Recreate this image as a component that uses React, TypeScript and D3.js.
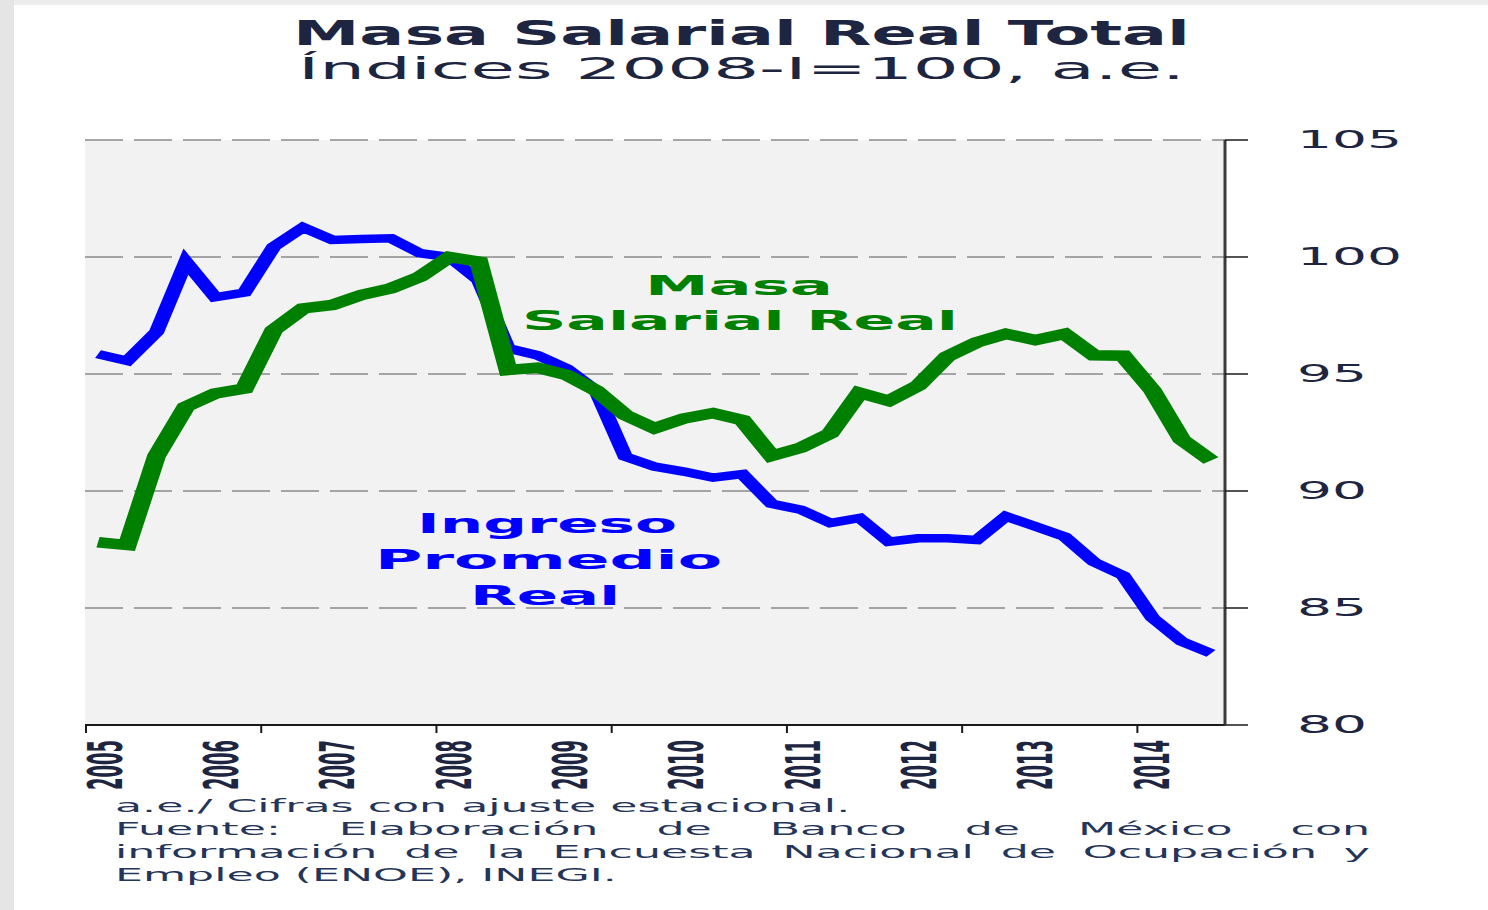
import React, { useLayoutEffect, useRef } from "react";
import * as d3 from "d3";

// ---------------- data ----------------
const years = ["2005", "2006", "2007", "2008", "2009", "2010", "2011", "2012", "2013", "2014"];
const quarterNames = ["I", "II", "III", "IV"];
// quarterly periods 2005-I .. 2014-III
const periods = years.flatMap((y) => quarterNames.map((q) => `${y}-${q}`)).slice(0, 39);

// Ingreso Promedio Real (index 2008-I = 100)
const ingresoPromedio = [
  95.85, 95.56, 96.8, 99.8, 98.28, 98.48, 100.44, 101.27, 100.73, 100.77,
  100.8, 100.16, 100.0, 99.0, 96.1, 95.8, 95.24, 94.3, 91.47, 91.04,
  90.83, 90.57, 90.72, 89.45, 89.2, 88.63, 88.85, 87.83, 87.98, 87.98,
  87.91, 88.92, 88.49, 88.05, 86.97, 86.39, 84.58, 83.57, 83.06,
];

// Masa Salarial Real (index 2008-I = 100)
const masaSalarial = [
  87.81, 87.69, 91.5, 93.6, 94.17, 94.38, 96.88, 97.8, 97.95, 98.38,
  98.66, 99.16, 100.0, 99.8, 95.17, 95.27, 94.96, 94.3, 93.25, 92.68,
  93.1, 93.33, 93.03, 91.5, 91.85, 92.46, 94.2, 93.85, 94.5, 95.75,
  96.35, 96.72, 96.45, 96.72, 95.8, 95.78, 94.3, 92.2, 91.3,
];

const yTicks = [80, 85, 90, 95, 100, 105];
const gridValues = [85, 90, 95, 100, 105];
const axisTickIdx = [0, 1, 2, 3, 4, 5, 6];

const titleLines = ["Masa Salarial Real Total", "Índices 2008-I=100, a.e."];
const masaLabel = ["Masa", "Salarial Real"];
const ingresoLabel = ["Ingreso", "Promedio", "Real"];
const footWhole = ["a.e./ Cifras con ajuste estacional.", "Empleo (ENOE), INEGI."];
const footJust = [
  "Fuente: Elaboración de Banco de México con",
  "información de la Encuesta Nacional de Ocupación y",
];

// ---------------- layout ----------------
const W = 1488;
const H = 910;
const PL = 85, PR = 1225, PT = 140, PB = 725;
const SX = 1.8; // horizontal stretch of the data strokes
const TXT = "#1d2540";
const FOOT = "#243559";
const FONT = "'DejaVu Sans', Verdana, sans-serif";
const FOOT_L = 115, FOOT_R = 1370, FOOT_W0 = 735;

export default function App() {
  const footRef = useRef<SVGGElement>(null);

  const y = d3.scaleLinear().domain([80, 105]).range([PB, PT]);
  const xs = d3.scalePoint<string>().domain(periods).range([98 / SX, 1211 / SX]);
  const mk = (vals: number[]) =>
    d3
      .line<number>()
      .x((_, i) => xs(periods[i]) as number)
      .y((d) => y(d))(vals) as string;
  const yearX = d3.scalePoint<string>().domain(years).range([105, 1152]);
  const tickX = d3.scaleLinear().domain([0, 6.5]).range([86, PR]);

  useLayoutEffect(() => {
    const root = footRef.current;
    if (!root) return;
    const first = root.querySelector("text.w0") as SVGTextElement | null;
    if (!first) return;
    const sx = FOOT_W0 / first.getComputedTextLength();
    root.querySelectorAll("text.whole").forEach((t) => {
      const b = t.getAttribute("data-b");
      t.setAttribute("transform", `translate(${FOOT_L},${b}) scale(${sx},1)`);
    });
    root.querySelectorAll("g.just").forEach((g) => {
      const b = g.getAttribute("data-b");
      const texts = Array.from(g.querySelectorAll("text")) as SVGTextElement[];
      const widths = texts.map((t) => t.getComputedTextLength() * sx);
      const gap = (FOOT_R - FOOT_L - d3.sum(widths)) / (texts.length - 1);
      let xp = FOOT_L;
      texts.forEach((t, i) => {
        t.setAttribute("transform", `translate(${xp},${b}) scale(${sx},1)`);
        xp += widths[i] + gap;
      });
    });
  }, []);

  const footBase = [812, 835, 858, 881];

  return (
    <svg
      width={W}
      height={H}
      viewBox={`0 0 ${W} ${H}`}
      style={{ position: "absolute", left: 0, top: 0, display: "block", background: "#fff" }}
      fontFamily={FONT}
    >
      <rect x={0} y={0} width={W} height={H} fill="#ffffff" />
      <rect x={0} y={0} width={W} height={5} fill="#ececec" />
      <rect x={0} y={0} width={14} height={H} fill="#e5e5e5" />

      {/* title */}
      <text x={293} y={45} fontSize={34} fontWeight="bold" fill={TXT} textLength={897} lengthAdjust="spacingAndGlyphs">
        {titleLines[0]}
      </text>
      <text x={298} y={79} fontSize={31} fill={TXT} textLength={887} lengthAdjust="spacingAndGlyphs">
        {titleLines[1]}
      </text>

      {/* plot background */}
      <rect x={PL} y={PT} width={PR - PL} height={PB - PT} fill="#f2f2f2" />

      {/* gridlines */}
      {gridValues.map((v) => (
        <line key={v} x1={PL} x2={PR} y1={y(v)} y2={y(v)} stroke="#8a8a8a" strokeWidth={1.5} strokeDasharray="38,11" />
      ))}

      {/* annotations */}
      <g fontWeight="bold" fontSize={27} fill="#008000">
        <text x={645} y={295} textLength={188} lengthAdjust="spacingAndGlyphs">{masaLabel[0]}</text>
        <text x={522} y={330} textLength={436} lengthAdjust="spacingAndGlyphs">{masaLabel[1]}</text>
      </g>
      <g fontWeight="bold" fontSize={27} fill="#0000ff">
        <text x={417} y={533} textLength={260} lengthAdjust="spacingAndGlyphs">{ingresoLabel[0]}</text>
        <text x={375} y={569} textLength={347} lengthAdjust="spacingAndGlyphs">{ingresoLabel[1]}</text>
        <text x={470} y={605} textLength={150} lengthAdjust="spacingAndGlyphs">{ingresoLabel[2]}</text>
      </g>

      {/* data lines */}
      <g transform={`scale(${SX},1)`} fill="none" strokeLinejoin="miter">
        <path d={mk(ingresoPromedio)} stroke="#0000ff" strokeWidth={8.5} />
        <path d={mk(masaSalarial)} stroke="#008000" strokeWidth={10.5} />
      </g>

      {/* bottom axis */}
      <line x1={PL} x2={PR} y1={PB} y2={PB} stroke="#1a1a1a" strokeWidth={2} />
      {axisTickIdx.map((i) => (
        <line key={i} x1={tickX(i)} x2={tickX(i)} y1={PB} y2={PB + 8} stroke="#1a1a1a" strokeWidth={2} />
      ))}
      {years.map((yr) => (
        <text
          key={yr}
          transform={`translate(${yearX(yr)},790) scale(3,1) rotate(-90)`}
          fontSize={16}
          fontWeight="bold"
          fill={TXT}
          dominantBaseline="central"
          textLength={50}
          lengthAdjust="spacingAndGlyphs"
        >
          {yr}
        </text>
      ))}

      {/* right axis */}
      <line x1={PR} x2={PR} y1={PT} y2={PB} stroke="#3a3a3a" strokeWidth={3} />
      {yTicks.map((v) => (
        <line key={v} x1={PR} x2={PR + 23} y1={y(v)} y2={y(v)} stroke="#1a1a1a" strokeWidth={1.5} />
      ))}
      {yTicks.map((v) => {
        const s = String(v);
        return (
          <text
            key={v}
            x={1297}
            y={y(v)}
            fontSize={24}
            fill={TXT}
            dominantBaseline="central"
            textLength={s.length * 35}
            lengthAdjust="spacingAndGlyphs"
          >
            {s}
          </text>
        );
      })}

      {/* footnotes */}
      <g ref={footRef} fontSize={17} fill={FOOT}>
        <text className="whole w0" data-b={footBase[0]} transform={`translate(${FOOT_L},${footBase[0]}) scale(2.1,1)`}>
          {footWhole[0]}
        </text>
        {footJust.map((ln, li) => (
          <g key={li} className="just" data-b={footBase[li + 1]}>
            {ln.split(" ").map((w, wi) => (
              <text key={wi} transform={`translate(${FOOT_L + wi * 120},${footBase[li + 1]}) scale(2.1,1)`}>
                {w}
              </text>
            ))}
          </g>
        ))}
        <text className="whole" data-b={footBase[3]} transform={`translate(${FOOT_L},${footBase[3]}) scale(2.1,1)`}>
          {footWhole[1]}
        </text>
      </g>
    </svg>
  );
}
